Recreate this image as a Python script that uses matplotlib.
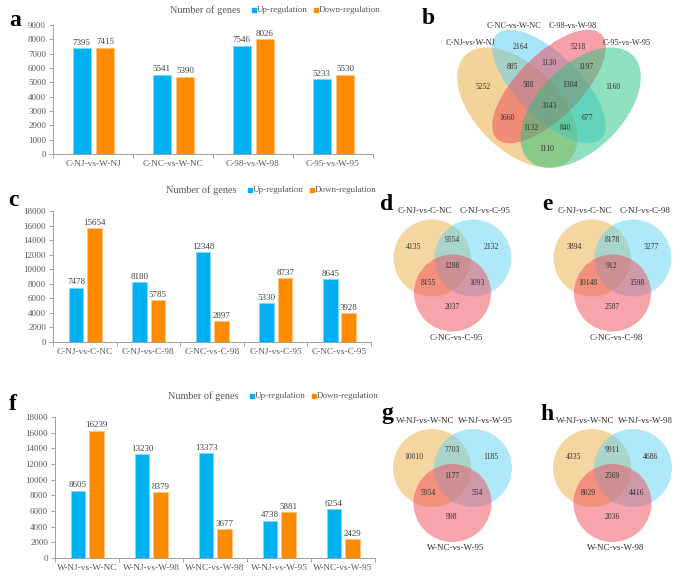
import matplotlib
matplotlib.use('Agg')
import matplotlib.pyplot as plt
from matplotlib.patches import Ellipse, Circle, Rectangle

plt.rcParams['font.family'] = ['Liberation Serif', 'DejaVu Serif']

W, H = 685, 579

# bar chart data
a_cats = ['C-NJ-vs-W-NJ', 'C-NC-vs-W-NC', 'C-98-vs-W-98', 'C-95-vs-W-95']
a_up = [7395, 5541, 7546, 5233]
a_down = [7415, 5390, 8026, 5530]

c_cats = ['C-NJ-vs-C-NC', 'C-NJ-vs-C-98', 'C-NC-vs-C-98', 'C-NJ-vs-C-95', 'C-NC-vs-C-95']
c_up = [7478, 8180, 12348, 5330, 8645]
c_down = [15654, 5785, 2897, 8737, 3928]

f_cats = ['W-NJ-vs-W-NC', 'W-NJ-vs-W-98', 'W-NC-vs-W-98', 'W-NJ-vs-W-95', 'W-NC-vs-W-95']
f_up = [8605, 13230, 13373, 4738, 6254]
f_down = [16239, 8379, 3677, 5881, 2429]

# venn data
b_sets = ['C-NJ-vs-W-NJ', 'C-NC-vs-W-NC', 'C-98-vs-W-98', 'C-95-vs-W-95']
# order: A, B, C, D, AB, BC, CD, AC, BD, AD, ABC, BCD, ACD, ABD, ABCD
b_counts = [5252, 2164, 5218, 1160, 885, 1130, 1197, 1660, 677, 1110, 588, 1304, 1132, 840, 3343]

d_sets = ['C-NJ-vs-C-NC', 'C-NJ-vs-C-95', 'C-NC-vs-C-95']
d_counts = [4135, 2132, 2037, 9554, 8155, 1093, 1288]  # A, B, C, AB, AC, BC, ABC
e_sets = ['C-NJ-vs-C-NC', 'C-NJ-vs-C-98', 'C-NC-vs-C-98']
e_counts = [3894, 3277, 2587, 8178, 10148, 1598, 912]
g_sets = ['W-NJ-vs-W-NC', 'W-NJ-vs-W-95', 'W-NC-vs-W-95']
g_counts = [10010, 1185, 998, 7703, 5954, 554, 1177]
h_sets = ['W-NJ-vs-W-NC', 'W-NJ-vs-W-98', 'W-NC-vs-W-98']
h_counts = [4335, 4686, 2036, 9911, 8029, 4416, 2569]

BLUE = '#00B0F0'
ORANGE = '#FF8C00'
GREY = '#595959'

fig = plt.figure(figsize=(W / 100, H / 100), dpi=100)
ov = fig.add_axes([0, 0, 1, 1])
ov.set_xlim(0, W)
ov.set_ylim(H, 0)
ov.axis('off')


def px_axes(l, t, r, b):
    return fig.add_axes([l / W, 1 - b / H, (r - l) / W, (b - t) / H])


def bar_panel(rect, cats, up, down, ymax, step, letter, letter_xy, head_x, head_y):
    ax = px_axes(*rect)
    n = len(cats)
    x = list(range(n))
    bu = ax.bar([i - 0.14 for i in x], up, width=0.23, color=BLUE, edgecolor='#7fd6f6', linewidth=0.6)
    bd = ax.bar([i + 0.15 for i in x], down, width=0.23, color=ORANGE, edgecolor='#ffc27a', linewidth=0.6)
    ax.bar_label(bu, padding=1, fontsize=6.5, color='#404040')
    ax.bar_label(bd, padding=1, fontsize=6.5, color='#404040')
    ax.set_xlim(-0.5, n - 0.5)
    ax.set_ylim(0, ymax)
    ax.set_yticks(range(0, ymax + 1, step))
    ax.set_xticks(x, labels=cats)
    ax.set_xticks([i - 0.5 for i in range(n + 1)], minor=True)
    ax.tick_params(axis='x', which='major', length=0, pad=4, labelsize=6.7, labelcolor=GREY)
    ax.tick_params(axis='x', which='minor', length=3, color='#a0a0a0', width=0.7)
    ax.tick_params(axis='y', length=3, pad=2, labelsize=6.5, labelcolor=GREY, color='#a0a0a0', width=0.7)
    for s in ['top', 'right']:
        ax.spines[s].set_visible(False)
    for s in ['left', 'bottom']:
        ax.spines[s].set_color('#a0a0a0')
        ax.spines[s].set_linewidth(0.7)
    ov.text(letter_xy[0], letter_xy[1], letter, fontsize=17, fontweight='bold', ha='center', va='center')
    # header: title and legend
    ov.text(head_x, head_y, 'Number of genes', fontsize=7.4, color=GREY, ha='left', va='center')
    lx = head_x + 82
    ov.add_patch(Rectangle((lx, head_y - 2), 4, 4, color=BLUE))
    ov.text(lx + 5, head_y, 'Up-regulation', fontsize=6.5, color=GREY, ha='left', va='center')
    ov.add_patch(Rectangle((lx + 62, head_y - 2), 4, 4, color=ORANGE))
    ov.text(lx + 67, head_y, 'Down-regulation', fontsize=6.5, color=GREY, ha='left', va='center')
    return ax


bar_panel((53, 25, 373, 154), a_cats, a_up, a_down, 9000, 1000, 'a', (15, 20), 170, 10)
bar_panel((53, 211, 371, 342), c_cats, c_up, c_down, 18000, 2000, 'c', (13, 201), 166, 190)
bar_panel((55, 417, 375, 558), f_cats, f_up, f_down, 18000, 2000, 'f', (13, 405), 168, 396)

# ---- four-set venn (b)
C_OR = '#EBA937'
C_BL = '#55CDF5'
C_RD = '#EE4455'
C_GR = '#20C37E'

s = 211
cx0, cy0 = 549, 107.6


def tp(u, v):
    return cx0 + (u - 0.5) * s, cy0 - (v - 0.47) * s


ells = [
    (0.35, 0.47, 0.35, 0.20, 45, C_OR),
    (0.50, 0.57, 0.35, 0.15, 45, C_BL),
    (0.50, 0.57, 0.35, 0.15, -45, C_RD),
    (0.65, 0.47, 0.35, 0.20, -45, C_GR),
]
for u, v, a, b, ang, col in ells:
    ov.add_patch(Ellipse(tp(u, v), 2 * a * s, 2 * b * s, angle=ang, facecolor=col, alpha=0.5, edgecolor='none'))

b_pos = [(483, 87), (520, 47), (578, 47), (613, 87), (512, 67), (549, 63), (586, 67),
         (507, 118), (587, 118), (547, 149), (528, 85), (570, 85), (531, 128), (565, 128), (549, 106)]
for (px, py), n in zip(b_pos, b_counts):
    ov.text(px, py, str(n), fontsize=5.5, ha='center', va='center', color='#303030')
b_lab_pos = [(471, 43), (514, 26), (573, 26), (627, 43)]
for (px, py), t in zip(b_lab_pos, b_sets):
    ov.text(px, py, t, fontsize=6, ha='center', va='center', color='#303030')
ov.text(428, 18, 'b', fontsize=17, fontweight='bold', ha='center', va='center')

# ---- three-set venns (d, e, g, h)
C3_OR = '#EDAF45'
C3_BL = '#5FD3F5'
C3_RD = '#F04B5A'


def venn3(ox, oy, r, sets, counts, letter):
    # ox, oy: centre of the first circle
    centres = [(ox, oy), (ox + 41, oy), (ox + 20.5, oy + 35)]
    for (x0, y0), col in zip(centres, [C3_OR, C3_BL, C3_RD]):
        ov.add_patch(Circle((x0, y0), r, facecolor=col, alpha=0.5, edgecolor='none'))
    offs = [(-18, -11), (59, -11), (20, 49), (20, -18), (-4, 25), (45, 25), (20, 8)]
    for (dx, dy), n in zip(offs, counts):
        ov.text(ox + dx, oy + dy, str(n), fontsize=5.5, ha='center', va='center', color='#303030')
    ov.text(ox - 7, oy - 47, sets[0], fontsize=6.5, ha='center', va='center', color='#303030')
    ov.text(ox + 53, oy - 47, sets[1], fontsize=6.5, ha='center', va='center', color='#303030')
    ov.text(ox + 24, oy + 80, sets[2], fontsize=6.5, ha='center', va='center', color='#303030')
    ov.text(ox - 45, oy - 54, letter, fontsize=17, fontweight='bold', ha='center', va='center')


venn3(432, 258, 38.5, d_sets, d_counts, 'd')
venn3(592, 258, 38.5, e_sets, e_counts, 'e')
venn3(432, 468, 39, g_sets, g_counts, 'g')
venn3(592, 468, 39, h_sets, h_counts, 'h')

fig.savefig('out.png', dpi=100)
